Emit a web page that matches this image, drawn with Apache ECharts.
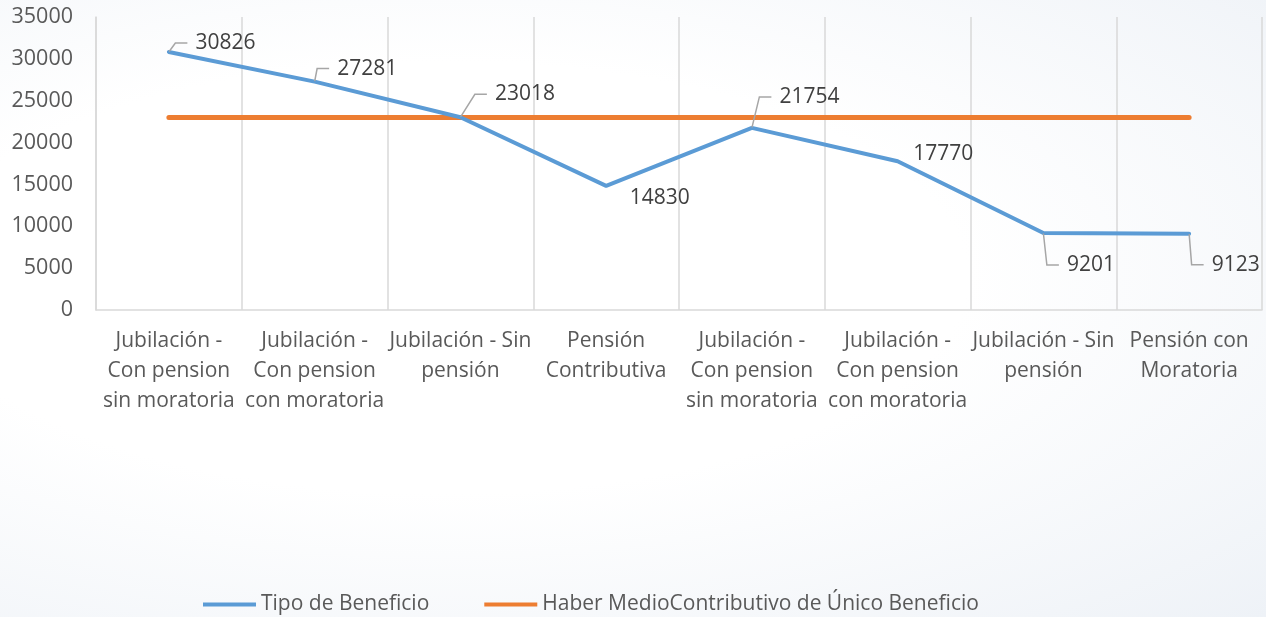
<!DOCTYPE html>
<html>
<head>
<meta charset="utf-8">
<script src="https://cdn.jsdelivr.net/npm/echarts@6/dist/echarts.min.js"></script>
<style>
  html, body { margin: 0; padding: 0; }
  body {
    width: 1266px;
    height: 617px;
    background: radial-gradient(ellipse at 35% 45%, #ffffff 45%, #eef2f7 100%);
  }
  #chart { width: 1266px; height: 617px; }
</style>
</head>
<body>
<div id="chart"></div>
<script>
// categories (tick labels)
const categorias = [
  'Jubilación -\nCon pension\nsin moratoria',
  'Jubilación -\nCon pension\ncon moratoria',
  'Jubilación - Sin\npensión',
  'Pensión\nContributiva',
  'Jubilación -\nCon pension\nsin moratoria',
  'Jubilación -\nCon pension\ncon moratoria',
  'Jubilación - Sin\npensión',
  'Pensión con\nMoratoria'
]
// series values
const tipoBeneficio = [30826, 27281, 23018, 14830, 21754, 17770, 9201, 9123]
const haberMedio = [23000, 23000, 23000, 23000, 23000, 23000, 23000, 23000]

// desplazamiento de etiquetas (dx, dy) y línea guía
const labelOffsets = [
  [13, -9], [9, -13], [21, -23], [10, 12],
  [14, -31], [2, -7], [10, 32], [9, 31]
]
const conGuia = [true, true, true, false, true, false, true, true]

const FONT = '"Open Sans"'
const AZUL = '#5b9bd5'
const NARANJA = '#ed7d31'
const chart = echarts.init(document.getElementById('chart'), null, { renderer: 'canvas' })

const option = {
  backgroundColor: 'transparent',
  animation: false,
  textStyle: { fontFamily: FONT },
  grid: { left: 96, right: 4, top: 17, bottom: 307 },
  legend: {
    left: 203,
    top: 594,
    padding: 0,
    itemWidth: 53,
    itemHeight: 4,
    itemGap: 55,
    textStyle: { fontSize: 21, color: '#595959', fontFamily: FONT },
    data: [
      { name: 'Tipo de Beneficio', icon: 'rect', itemStyle: { color: AZUL, opacity: 1 } },
      { name: 'Haber MedioContributivo de Único Beneficio', icon: 'rect', itemStyle: { color: NARANJA } }
    ]
  },
  xAxis: {
    type: 'category',
    data: categorias,
    boundaryGap: true,
    axisLine: { show: true, lineStyle: { color: '#d9d9d9', width: 1.5 } },
    axisTick: { show: false },
    splitLine: { show: true, lineStyle: { color: '#d9d9d9', width: 1.5 } },
    axisLabel: {
      interval: 0,
      fontSize: 21,
      lineHeight: 30,
      color: '#595959',
      margin: 16,
      fontFamily: FONT
    }
  },
  yAxis: {
    type: 'value',
    min: 0,
    max: 35000,
    interval: 5000,
    axisLine: { show: true, lineStyle: { color: '#d9d9d9', width: 1.5 } },
    axisTick: { show: false },
    splitLine: { show: false },
    axisLabel: {
      fontSize: 21.5,
      color: '#595959',
      margin: 23,
      fontFamily: FONT,
      formatter: function (v) { return String(v) }
    }
  },
  series: [
    {
      name: 'Tipo de Beneficio',
      type: 'line',
      data: tipoBeneficio.map(function (v, i) {
        return { value: v, labelLine: { show: conGuia[i] } }
      }),
      symbol: 'circle',
      symbolSize: 1,
      showSymbol: true,
      itemStyle: { color: 'rgba(0,0,0,0)' },
      lineStyle: { width: 4, color: AZUL, cap: 'round', join: 'round' },
      z: 3,
      label: {
        show: true,
        position: 'right',
        fontSize: 21,
        color: '#404040',
        fontFamily: FONT,
        backgroundColor: 'rgba(255,255,255,0)',
        padding: [2, 0, 2, 8]
      },
      labelLine: {
        show: true,
        length2: 12,
        lineStyle: { color: '#a6a6a6', width: 1.5 }
      },
      labelLayout: function (params) {
        const o = labelOffsets[params.dataIndex]
        return { dx: o[0], dy: o[1] }
      }
    },
    {
      name: 'Haber MedioContributivo de Único Beneficio',
      type: 'line',
      data: haberMedio,
      symbol: 'none',
      lineStyle: { width: 5, color: NARANJA, cap: 'round' },
      z: 2
    }
  ]
}

chart.setOption(option)
</script>
</body>
</html>
